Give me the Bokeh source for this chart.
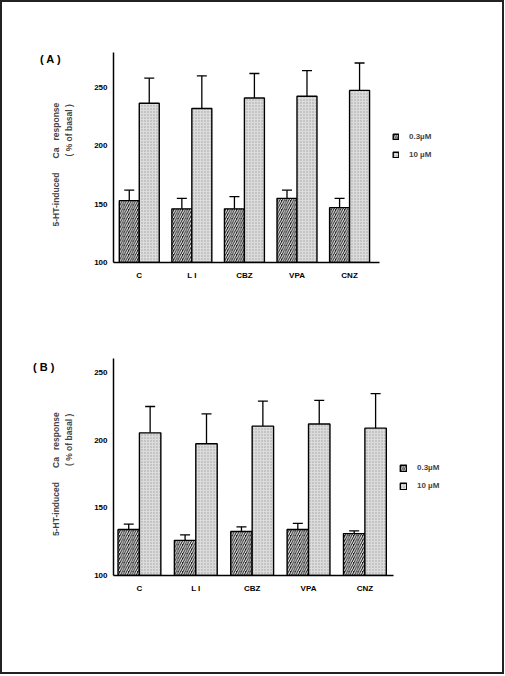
from bokeh.plotting import figure
from bokeh.models import (ColumnDataSource, Whisker, TeeHead, FixedTicker, Div,
                          Legend, LegendItem)
from bokeh.layouts import column
from bokeh.embed import file_html
from bokeh.resources import INLINE

categories = ["C", "L I", "CBZ", "VPA", "CNZ"]
y_ticks = [100, 150, 200, 250]
legend_labels = ["0.3\u00b5M", "10 \u00b5M"]
panel_letters = ["( A )", "( B )"]

# Panel A : mean and SEM (% of basal)
a_low = [153, 146, 146, 155, 147]
a_low_sem = [9, 9, 10.5, 7, 8]
a_high = [236.5, 232, 241, 242.5, 247.5]
a_high_sem = [21.5, 28, 21, 22, 23.5]

# Panel B : mean and SEM (% of basal)
b_low = [134, 126, 132.5, 134, 131]
b_low_sem = [4, 4, 3.5, 4.5, 2]
b_high = [205.5, 197.5, 210.5, 212, 209]
b_high_sem = [19.5, 22, 18.5, 17.5, 25.5]

FONT = "Liberation Sans"
NB = "\u00a0"
Y_LABEL = ("5-HT-induced" + NB * 6 + "Ca" + NB * 3 + "response" + NB * 6 + "\n"
           + NB * 23 + "(" + NB + "%" + NB + "of" + NB + "basal" + NB + ")")
DARK = dict(fill_color="#151515", hatch_pattern="/", hatch_color="white",
            hatch_scale=4.5, hatch_weight=1.0, line_color="black", line_width=1.4)
LIGHT = dict(fill_color="#dcdcdc", hatch_pattern="dot", hatch_color="#a0a0a0",
             hatch_scale=3, hatch_weight=1, line_color="black", line_width=1.4)


def panel(low, low_sem, high, high_sem, geom):
    (bl, fw, fh, bt, bb, x0, x1, y1, xb1, leg_loc, gsz, gap) = geom
    p = figure(frame_width=fw, frame_height=fh, min_border_left=bl,
               min_border_right=500 - bl - fw, min_border_top=bt,
               min_border_bottom=bb, x_range=(x0, x1), y_range=(100, y1),
               output_backend="svg", toolbar_location=None)
    p.grid.visible = False
    p.outline_line_color = None
    p.background_fill_color = "white"
    p.border_fill_color = "white"

    xs = list(range(len(categories)))
    w = 0.38
    src_low = ColumnDataSource(dict(x=[v - w / 2 for v in xs], top=low,
                                    up=[m + s for m, s in zip(low, low_sem)]))
    src_high = ColumnDataSource(dict(x=[v + w / 2 for v in xs], top=high,
                                     up=[m + s for m, s in zip(high, high_sem)]))
    r1 = p.vbar(x="x", top="top", bottom=100, width=w, source=src_low, **DARK)
    r2 = p.vbar(x="x", top="top", bottom=100, width=w, source=src_high, **LIGHT)
    for src in (src_low, src_high):
        wk = Whisker(base="x", lower="top", upper="up", source=src,
                     line_color="black", line_width=1.3, lower_head=None,
                     upper_head=TeeHead(size=10, line_color="black", line_width=1.3))
        p.add_layout(wk)

    for ax in (p.xaxis[0], p.yaxis[0]):
        ax.axis_line_color = "black"
        ax.axis_line_width = 1.5
        ax.major_tick_line_color = None
        ax.minor_tick_line_color = None
        ax.major_tick_out = 0
        ax.major_tick_in = 0
        ax.major_label_text_font = FONT
        ax.major_label_text_font_style = "bold"
        ax.major_label_text_font_size = "8px"
        ax.major_label_text_color = "black"
    p.xaxis.ticker = FixedTicker(ticks=xs)
    p.xaxis.major_label_overrides = {i: c for i, c in enumerate(categories)}
    p.xaxis.major_label_standoff = 8
    p.xaxis.bounds = (x0, xb1)
    p.yaxis.ticker = FixedTicker(ticks=y_ticks)
    p.yaxis.major_label_standoff = 6
    p.yaxis.bounds = (100, y1)
    p.yaxis.axis_label = Y_LABEL
    p.yaxis.axis_label_text_font = FONT
    p.yaxis.axis_label_text_font_style = "bold"
    p.yaxis.axis_label_text_font_size = "8.5px"
    p.yaxis.axis_label_text_line_height = 1.35
    p.yaxis.axis_label_standoff = 17

    leg = Legend(items=[LegendItem(label=legend_labels[0], renderers=[r1]),
                        LegendItem(label=legend_labels[1], renderers=[r2])],
                 location=leg_loc, glyph_width=gsz, glyph_height=gsz,
                 label_height=gsz, label_width=10, spacing=gap, padding=0,
                 margin=0, label_standoff=10, border_line_color=None,
                 background_fill_alpha=0, label_text_font=FONT,
                 label_text_font_style="bold", label_text_font_size="8px")
    p.add_layout(leg)
    return p


def letter_div(text, left, top):
    return Div(text=text, width=40, height=14,
               styles={"position": "absolute", "left": f"{left}px",
                       "top": f"{top}px", "font-family": FONT,
                       "font-weight": "bold", "font-size": "11px",
                       "line-height": "14px", "color": "black",
                       "white-space": "pre"})


pa = panel(a_low, a_low_sem, a_high, a_high_sem,
           (111, 357, 210, 50, 75, -0.49, 6.30, 280, 4.57, (279, 103), 7, 9))
pb = panel(b_low, b_low_sem, b_high, b_high_sem,
           (105, 363, 217, 21, 97, -0.46, 5.98, 260.5, 4.50, (286, 85), 8, 9))

div_a = letter_div(panel_letters[0], 33, 45)
div_b = letter_div(panel_letters[1], 26, 353)

page = column(pa, pb, div_a, div_b,
              styles={"position": "absolute", "left": "0px", "top": "0px",
                      "border": "2px solid #222", "background": "white"})

open("out.html", "w").write(file_html(page, INLINE))
